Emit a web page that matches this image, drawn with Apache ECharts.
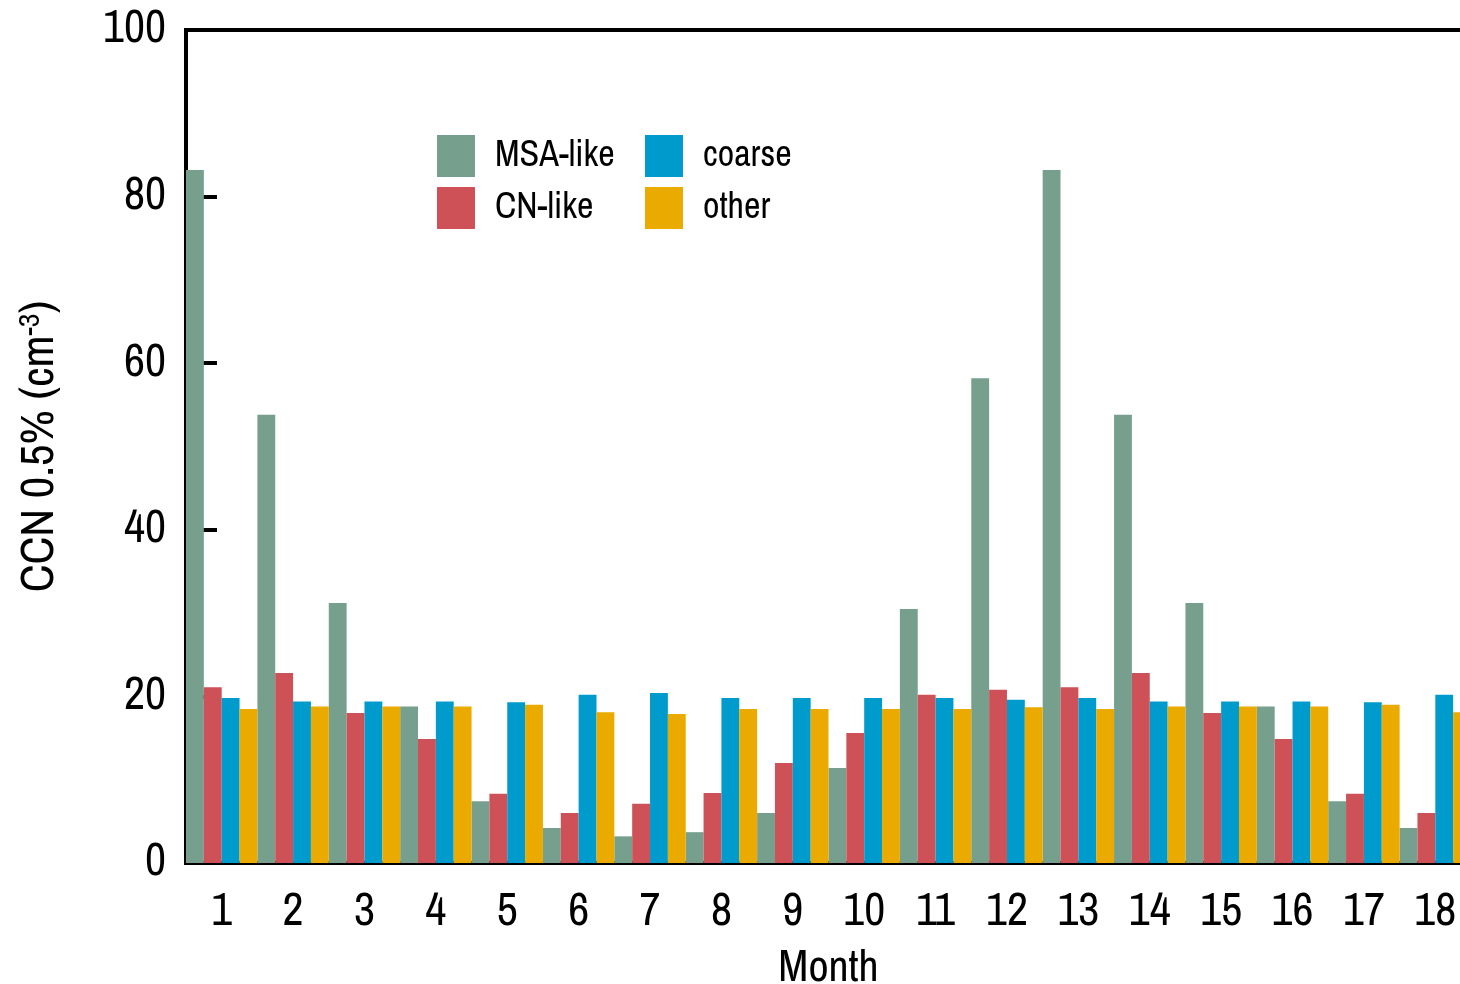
<!DOCTYPE html>
<html><head><meta charset="utf-8">
<script src="https://cdn.jsdelivr.net/npm/echarts@6/dist/echarts.min.js"></script>
<style>html,body{margin:0;padding:0;background:#fff}#c{width:1460px;height:984px}</style>
</head><body><div id="c"></div>
<script>
const months = ['1','2','3','4','5','6','7','8','9','10','11','12','13','14','15','16','17','18'];
const msaLike = [83.2,53.8,31.2,18.8,7.4,4.2,3.2,3.7,6.0,11.4,30.5,58.2,83.2,53.8,31.2,18.8,7.4,4.2];
const cnLike  = [21.1,22.8,18.0,14.9,8.3,6.0,7.1,8.4,12.0,15.6,20.2,20.8,21.1,22.8,18.0,14.9,8.3,6.0];
const coarse  = [19.8,19.4,19.4,19.4,19.3,20.2,20.4,19.8,19.8,19.8,19.8,19.6,19.8,19.4,19.4,19.4,19.3,20.2];
const other   = [18.5,18.8,18.8,18.8,19.0,18.1,17.9,18.5,18.5,18.5,18.5,18.7,18.5,18.8,18.8,18.8,19.0,18.1];
const yTicks = [0,20,40,60,80,100];

const FONT = '"Archivo Narrow","PT Sans Narrow","Roboto Condensed","Liberation Sans",sans-serif';
const colors = {'MSA-like':'#76a08d','CN-like':'#cd5157','coarse':'#009bcd','other':'#eaaa00'};

const chart = echarts.init(document.getElementById('c'));
const mk = (name, data) => ({
  name, type:'bar', data, barGap:'0%', barCategoryGap:'0%',
  itemStyle:{color:colors[name]}, animation:false
});
const legendCommon = {
  orient:'vertical', itemWidth:38, itemHeight:42, itemGap:10, icon:'rect', padding:0,
  textStyle:{fontFamily:FONT, fontSize:36, color:'#000', padding:[0,0,0,15]},
  selectedMode:false
};
chart.setOption({
  animation:false,
  backgroundColor:'#fff',
  textStyle:{fontFamily:FONT},
  grid:{left:186, top:30, width:1285, height:833, show:true, borderColor:'#000', borderWidth:4,
        containLabel:false, outerBoundsMode:'none'},
  legend:[
    Object.assign({left:437, top:135, data:['MSA-like','CN-like']}, legendCommon),
    Object.assign({left:645, top:135, data:['coarse','other']}, legendCommon)
  ],
  xAxis:{
    type:'category', data:months,
    name:'Month', nameLocation:'middle', nameGap:84,
    nameTextStyle:{fontFamily:FONT, fontSize:44, color:'#000'},
    axisLine:{lineStyle:{color:'#000', width:4}},
    axisTick:{inside:true, length:25, lineStyle:{color:'#000', width:4}},
    axisLabel:{fontFamily:FONT, fontSize:46, color:'#000', margin:27}
  },
  yAxis:{
    type:'value', min:0, max:100, interval:20,
    name:'{a|CCN 0.5% (cm}{s|-3}{a|)}', nameLocation:'middle', nameGap:122, nameRotate:90,
    nameTextStyle:{rich:{
      a:{fontFamily:FONT, fontSize:47, color:'#000'},
      s:{fontFamily:FONT, fontSize:30, color:'#000', verticalAlign:'top', padding:[0,0,18,0]}
    }},
    axisLine:{show:true, lineStyle:{color:'#000', width:4}},
    axisTick:{show:true, inside:true, length:31, lineStyle:{color:'#000', width:4}},
    splitLine:{show:false},
    axisLabel:{fontFamily:FONT, fontSize:46, color:'#000', margin:20,
      formatter:v => yTicks.includes(v) ? String(v) : ''}
  },
  series:[mk('MSA-like',msaLike), mk('CN-like',cnLike), mk('coarse',coarse), mk('other',other)]
});
</script></body></html>
